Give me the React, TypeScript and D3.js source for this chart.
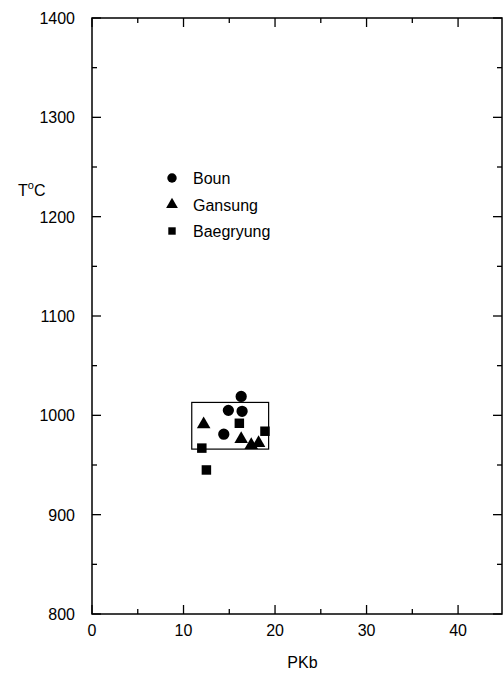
import { useEffect, useRef } from 'react';
import * as d3 from 'd3';

interface Pt {
  p: number;
  t: number;
}

const boun: Pt[] = [
  { p: 16.3, t: 1019 },
  { p: 14.9, t: 1005 },
  { p: 16.4, t: 1004 },
  { p: 14.4, t: 981 },
];

const gansung: Pt[] = [
  { p: 12.2, t: 991 },
  { p: 16.3, t: 976 },
  { p: 17.4, t: 970 },
  { p: 18.2, t: 972 },
];

const baegryung: Pt[] = [
  { p: 16.1, t: 992 },
  { p: 18.9, t: 984 },
  { p: 12.0, t: 967 },
  { p: 12.5, t: 945 },
];

const seriesNames = ['Boun', 'Gansung', 'Baegryung'];
const xTicks = [0, 10, 20, 30, 40];
const yTicks = [800, 900, 1000, 1100, 1200, 1300, 1400];
// outline around the cluster: [pMin, pMax], [tMin, tMax]
const boxP = [10.9, 19.3];
const boxT = [966, 1013];

export default function App() {
  const svgRef = useRef<SVGSVGElement>(null);
  const W = 503;
  const H = 674;

  useEffect(() => {
    if (!svgRef.current) return;
    const svg = d3.select(svgRef.current);
    svg.selectAll('*').remove();

    const left = 92;
    const right = 502;
    const top = 18;
    const bottom = 614;
    const font = 'Liberation Sans, Arial, sans-serif';

    const x = d3.scaleLinear().domain([0, 44.8]).range([left, right]);
    const y = d3.scaleLinear().domain([800, 1400]).range([bottom, top]);

    // Frame
    svg.append('rect')
      .attr('x', left)
      .attr('y', top)
      .attr('width', right - left)
      .attr('height', bottom - top)
      .attr('fill', 'none')
      .attr('stroke', '#000')
      .attr('stroke-width', 1.5);

    // Ticks (inward, mirrored)
    const xMinor = d3.range(5, 45, 10);
    const yMinor = d3.range(850, 1400, 100);
    const tickG = svg.append('g').attr('stroke', '#000').attr('stroke-width', 1.3);
    xTicks.concat(xMinor).forEach(v => {
      const len = xTicks.includes(v) ? 9 : 5;
      tickG.append('line').attr('x1', x(v)).attr('x2', x(v)).attr('y1', bottom).attr('y2', bottom - len);
      tickG.append('line').attr('x1', x(v)).attr('x2', x(v)).attr('y1', top).attr('y2', top + len);
    });
    yTicks.concat(yMinor).forEach(v => {
      const len = yTicks.includes(v) ? 9 : 5;
      tickG.append('line').attr('y1', y(v)).attr('y2', y(v)).attr('x1', left).attr('x2', left + len);
      tickG.append('line').attr('y1', y(v)).attr('y2', y(v)).attr('x1', right).attr('x2', right - len);
    });

    // Tick labels
    svg.append('g')
      .selectAll('text')
      .data(xTicks)
      .join('text')
      .attr('x', d => x(d))
      .attr('y', bottom + 22)
      .attr('text-anchor', 'middle')
      .attr('font-family', font)
      .attr('font-size', 16)
      .text(d => d);

    svg.append('g')
      .selectAll('text')
      .data(yTicks)
      .join('text')
      .attr('x', left - 17)
      .attr('y', d => y(d) + 6)
      .attr('text-anchor', 'end')
      .attr('font-family', font)
      .attr('font-size', 16)
      .text(d => d);

    // Axis titles
    svg.append('text')
      .attr('x', x(23))
      .attr('y', 668)
      .attr('text-anchor', 'middle')
      .attr('font-family', font)
      .attr('font-size', 16)
      .text('PKb');

    const yt = svg.append('text')
      .attr('x', 18)
      .attr('y', 196)
      .attr('font-family', font)
      .attr('font-size', 16);
    yt.append('tspan').text('T');
    yt.append('tspan').attr('font-size', 11).attr('dy', -7).text('o');
    yt.append('tspan').attr('dy', 7).text('C');

    // Cluster box
    svg.append('rect')
      .attr('x', x(boxP[0]))
      .attr('y', y(boxT[1]))
      .attr('width', x(boxP[1]) - x(boxP[0]))
      .attr('height', y(boxT[0]) - y(boxT[1]))
      .attr('fill', 'none')
      .attr('stroke', '#000')
      .attr('stroke-width', 1.2);

    const symbols = [
      d3.symbol().type(d3.symbolCircle).size(100),
      d3.symbol().type(d3.symbolTriangle).size(80),
      d3.symbol().type(d3.symbolSquare).size(90),
    ];
    const series = [boun, gansung, baegryung];

    series.forEach((data, i) => {
      svg.append('g')
        .selectAll('path')
        .data(data)
        .join('path')
        .attr('transform', d => `translate(${x(d.p)},${y(d.t)})`)
        .attr('d', symbols[i]())
        .attr('fill', '#000');
    });

    // Legend
    const legendSymbols = [
      d3.symbol().type(d3.symbolCircle).size(70),
      d3.symbol().type(d3.symbolTriangle).size(60),
      d3.symbol().type(d3.symbolSquare).size(55),
    ];
    seriesNames.forEach((name, i) => {
      const ly = 178 + i * 26.5;
      svg.append('path')
        .attr('transform', `translate(172,${ly})`)
        .attr('d', legendSymbols[i]())
        .attr('fill', '#000');
      svg.append('text')
        .attr('x', 193)
        .attr('y', ly + 6)
        .attr('font-family', font)
        .attr('font-size', 16)
        .text(name);
    });
  }, []);

  return (
    <div style={{ position: 'absolute', left: 0, top: 0, background: '#fff' }}>
      <svg ref={svgRef} width={W} height={H} style={{ display: 'block' }} />
    </div>
  );
}
